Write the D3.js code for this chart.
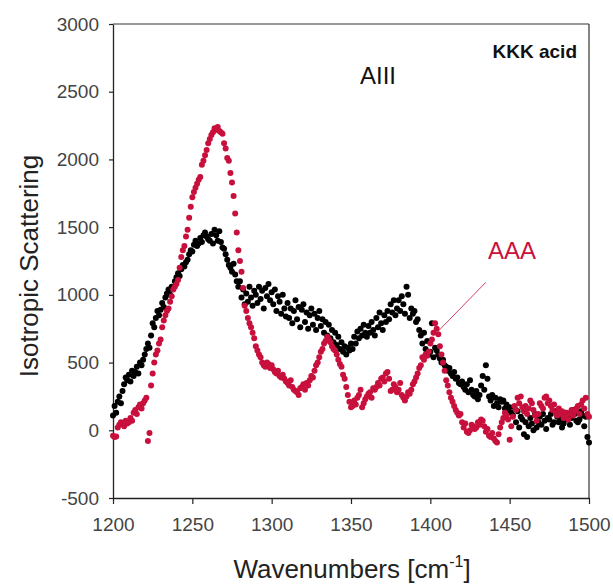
<!DOCTYPE html>
<html>
<head>
<meta charset="utf-8">
<script src="https://cdn.jsdelivr.net/npm/d3@7"></script>
<style>
  html, body { margin: 0; padding: 0; background: #fff; }
  svg { display: block; }
  text { font-family: "Liberation Sans", Arial, Helvetica, sans-serif; }
</style>
</head>
<body>
<svg id="chart" width="613" height="584"></svg>
<script>
// Wavenumber start/step (cm^-1)
const wnStart = 1200;
const wnStep = 1;

// KKK acid (black) isotropic scattering, 1200..1500
const kkk = [
  110, 180, 130, 210, 250, 200, 290, 340, 390, 370,
  410, 360, 440, 400, 430, 470, 420, 500, 480, 520,
  560, 600, 640, 610, 700, 790, 760, 830, 880, 850,
  890, 940, 910, 980, 1010, 1040, 1000, 1060, 1050, 1100,
  1130, 1160, 1140, 1190, 1220, 1210, 1240, 1260, 1300, 1330,
  1320, 1370, 1400, 1360, 1380, 1420, 1390, 1440, 1460, 1430,
  1410, 1400, 1450, 1380, 1480, 1440, 1400, 1470, 1390, 1350,
  1340, 1300, 1260, 1220, 1200, 1170, 1230, 1150, 1100, 1060,
  1100, 980, 1040, 930, 1010, 950, 1060, 980, 920, 1030,
  1000, 940, 1060, 970, 1030, 900, 1050, 990, 1080, 960,
  1020, 930, 1040, 880, 990, 950, 860, 1000, 900, 840,
  940, 830, 900, 790, 880, 960, 820, 910, 760, 890,
  930, 800, 870, 750, 850, 900, 780, 860, 740, 830,
  880, 770, 820, 720, 800, 700, 780, 680, 740, 650,
  720, 630, 690, 600, 650, 580, 620, 560, 610, 590,
  640, 600, 690, 640, 730, 680, 750, 700, 780, 720,
  690, 770, 720, 800, 740, 700, 830, 760, 870, 790,
  740, 850, 800, 880, 820, 930, 870, 960, 850, 900,
  960, 880, 990, 930, 860, 1060, 1000, 830, 900, 860,
  880, 800, 820, 740, 700, 640, 720, 600, 660, 560,
  580, 790, 540, 610, 590, 560, 530, 500, 520, 480,
  470, 440, 460, 420, 400, 430, 380, 390, 350, 340,
  360, 320, 300, 340, 280, 370, 300, 260, 250, 290,
  230, 260, 330, 400, 300, 480, 380, 250, 220, 260,
  180, 240, 200, 170, 230, 210, 220, 160, 190, 150,
  170, 130, 110, 170, 60, 140, 20, 100, 80, -30,
  60, -50, 30, 90, 50, 0, 120, 20, 60, 100,
  40, 120, 70, 10, 90, 80, 120, 40, 60, 140,
  100, 60, 80, 20, 50, 130, 80, 110, 40, 90,
  150, 120, 70, 60, 80, 140, 110, 30, 100, -50,
  -90
];

// AAA (red) isotropic scattering, 1200..1500
const aaa = [
  -40, -50, -45, 20, 40, 60, 50, 30, 70, 50,
  60, 90, 70, 130, 150, 120, 170, 190, 160, 200,
  220, 240, -80, -20, 330, 420, 500, 560, 590, 640,
  670, 760, 810, 850, 880, 900, 950, 990, 1040, 1060,
  1080, 1110, 1200, 1280, 1330, 1360, 1430, 1480, 1570, 1650,
  1720, 1760, 1790, 1820, 1850, 1870, 1960, 1990, 2030, 2070,
  2120, 2150, 2180, 2200, 2230, 2220, 2240, 2210, 2200, 2190,
  2120, 2080, 2010, 1990, 1900, 1830, 1730, 1600, 1460, 1330,
  1250, 1170, 1050, 920, 880, 830, 790, 760, 720, 680,
  620, 590, 560, 540, 500, 480, 470, 500, 490, 460,
  480, 450, 430, 420, 440, 400, 390, 410, 380, 360,
  350, 330, 370, 320, 300, 290, 280, 260, 310, 320,
  340, 300, 350, 330, 370, 400, 390, 440, 480, 500,
  540, 580, 600, 640, 660, 690, 670, 650, 620, 600,
  590, 560, 520, 490, 470, 410, 380, 320, 260, 210,
  170, 180, 220, 190, 240, 260, 300, 170, 200, 230,
  250, 270, 280, 240, 310, 300, 320, 350, 330, 380,
  390, 360, 420, 430, 380, 290, 300, 340, 320, 280,
  300, 350, 260, 240, 220, 250, 280, 270, 300, 340,
  360, 390, 420, 460, 480, 540, 520, 560, 550, 580,
  640, 670, 720, 790, 750, 710, 620, 560, 500, 440,
  370, 330, 280, 240, 210, 180, 150, 130, 110, 120,
  60, 20, 50, -10, -20, 0, 40, 30, 10, 20,
  60, 40, 80, 70, 30, -10, 10, -40, -50, -20,
  -60, -80, -90, -30, 20, 60, 90, 130, 110, 80,
  -70, 30, 100, 180, 150, 240, 200, 250, 170, 140,
  180, 120, 160, 220, 200, 150, 110, 70, 120, 200,
  180, 160, 240, 250, 200, 220, 180, 150, 190, 130,
  110, 160, 120, 140, 90, 100, 130, 80, 120, 150,
  110, 140, 160, 180, 120, 190, 220, 160, 240, 120,
  100
];

const xTicks = [1200, 1250, 1300, 1350, 1400, 1450, 1500];
const yTicks = [-500, 0, 500, 1000, 1500, 2000, 2500, 3000];

// Annotation leader line for "AAA" (data coords)
const leaderX = [1405.5, 1435.0];
const leaderY = [738, 1093];

const svg = d3.select("#chart");
const pL = 113, pR = 589, pT = 24, pB = 498;

const x = d3.scaleLinear().domain([1200, 1500]).range([pL, pR]);
const y = d3.scaleLinear().domain([-500, 3000]).range([pB, pT]);

const red = "#c8103c";

// Frame top and right
svg.append("line").attr("x1", pL).attr("x2", pR).attr("y1", pT).attr("y2", pT)
  .attr("stroke", "#777").attr("stroke-width", 1.5);
svg.append("line").attr("x1", pR).attr("x2", pR).attr("y1", pT).attr("y2", pB)
  .attr("stroke", "#333").attr("stroke-width", 1.2);

// Axes
const fmt = d => String(d);
const gx = svg.append("g").attr("transform", `translate(0,${pB})`)
  .call(d3.axisBottom(x).tickValues(xTicks).tickFormat(fmt).tickSize(6).tickSizeOuter(0).tickPadding(14));
const gy = svg.append("g").attr("transform", `translate(${pL},0)`)
  .call(d3.axisLeft(y).tickValues(yTicks).tickFormat(fmt).tickSize(4).tickSizeOuter(0).tickPadding(10));

[gx, gy].forEach(g => {
  g.select(".domain").attr("stroke", "#222").attr("stroke-width", 1.3);
  g.selectAll(".tick line").attr("stroke", "#222").attr("stroke-width", 1.2);
  g.selectAll(".tick text").attr("fill", "#444").style("font-size", "19px")
    .style("font-family", "'Liberation Sans', Arial, sans-serif");
});

// Data points
const ptsK = kkk.map((v, i) => ({ wn: wnStart + i * wnStep, v }));
const ptsA = aaa.map((v, i) => ({ wn: wnStart + i * wnStep, v }));

svg.append("g").selectAll("circle").data(ptsK).join("circle")
  .attr("cx", d => x(d.wn)).attr("cy", d => y(d.v)).attr("r", 3).attr("fill", "#000");
svg.append("g").selectAll("circle").data(ptsA).join("circle")
  .attr("cx", d => x(d.wn)).attr("cy", d => y(d.v)).attr("r", 3).attr("fill", red);

// Leader line
svg.append("line")
  .attr("x1", x(leaderX[0])).attr("y1", y(leaderY[0]))
  .attr("x2", x(leaderX[1])).attr("y2", y(leaderY[1]))
  .attr("stroke", red).attr("stroke-width", 0.8);

// Labels
svg.append("text").attr("x", 378).attr("y", 84).attr("text-anchor", "middle")
  .style("font-size", "24px").attr("fill", "#111").text("AIII");
svg.append("text").attr("x", 577).attr("y", 58).attr("text-anchor", "end")
  .style("font-size", "19px").style("font-weight", "bold").attr("fill", "#111").text("KKK acid");
svg.append("text").attr("x", 512).attr("y", 259).attr("text-anchor", "middle")
  .style("font-size", "24px").attr("fill", red).text("AAA");

// Axis titles
svg.append("text").attr("transform", "translate(38,266) rotate(-90)").attr("text-anchor", "middle")
  .style("font-size", "26px").attr("fill", "#222").text("Isotropic Scattering");

const xt = svg.append("text").attr("x", 352).attr("y", 578).attr("text-anchor", "middle")
  .style("font-size", "26px").attr("fill", "#222");
xt.append("tspan").text("Wavenumbers [cm");
xt.append("tspan").attr("dy", -11).style("font-size", "16px").text("-1");
xt.append("tspan").attr("dy", 11).text("]");
</script>
</body>
</html>
